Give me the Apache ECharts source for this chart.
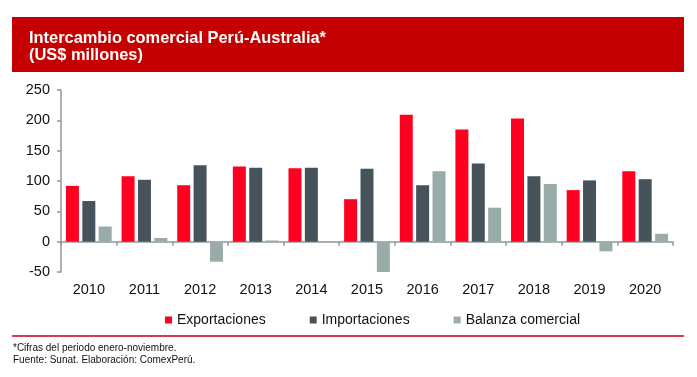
<!DOCTYPE html>
<html>
<head>
<meta charset="utf-8">
<script src="https://cdn.jsdelivr.net/npm/echarts@6/dist/echarts.min.js"></script>
<style>
  html, body { margin: 0; padding: 0; background: #fff; }
  #chart { width: 697px; height: 377px; }
</style>
</head>
<body>
<div id="chart"></div>
<script>
// years and values (US$ millones)
const years = ["2010", "2011", "2012", "2013", "2014", "2015", "2016", "2017", "2018", "2019", "2020"];
const exportaciones = [92, 108, 93, 124, 121, 70, 209, 185, 203, 85, 116];
const importaciones = [67, 102, 126, 122, 122, 120, 93, 129, 108, 101, 103];
const balanza = [25, 6, -33, 2, -1, -50, 116, 56, 95, -16, 13];

const FONT = "'Liberation Sans', Arial, sans-serif";
const axisGrey = "#8e999b";

const chart = echarts.init(document.getElementById("chart"));

const barSeries = (name, data, color) => ({
  name: name,
  type: "bar",
  data: data,
  barWidth: 13,
  barGap: "26%",
  itemStyle: { color: color },
  emphasis: { disabled: true },
});

chart.setOption({
  animation: false,
  textStyle: { fontFamily: FONT },
  grid: { left: 61, right: 24, top: 90, bottom: 105 },
  graphic: [
    // header box
    {
      type: "rect",
      shape: { x: 12, y: 17, width: 672, height: 55 },
      style: { fill: "#c40000" },
    },
    {
      type: "text",
      x: 29,
      y: 38,
      style: {
        text: "Intercambio comercial Perú-Australia*",
        fill: "#fff",
        font: "bold 16.4px " + FONT,
        verticalAlign: "middle",
      },
    },
    {
      type: "text",
      x: 29,
      y: 55.5,
      style: {
        text: "(US$ millones)",
        fill: "#fff",
        font: "bold 16.4px " + FONT,
        verticalAlign: "middle",
      },
    },
    // separator under the legend
    {
      type: "rect",
      shape: { x: 12, y: 335, width: 672, height: 2 },
      style: { fill: "#d93a4c" },
    },
    {
      type: "text",
      x: 13,
      y: 348.5,
      style: {
        text: "*Cifras del periodo enero-noviembre.",
        fill: "#111",
        font: "10px " + FONT,
        verticalAlign: "middle",
      },
    },
    {
      type: "text",
      x: 13,
      y: 360.5,
      style: {
        text: "Fuente: Sunat. Elaboración: ComexPerú.",
        fill: "#111",
        font: "10px " + FONT,
        verticalAlign: "middle",
      },
    },
  ],
  legend: {
    left: 160,
    top: 308,
    itemWidth: 7,
    itemHeight: 7,
    itemGap: 44,
    icon: "rect",
    textStyle: { fontSize: 14, color: "#111", fontFamily: FONT },
    data: ["Exportaciones", "Importaciones", "Balanza comercial"],
  },
  xAxis: {
    type: "category",
    data: years,
    axisLine: { onZero: true, lineStyle: { color: axisGrey, width: 1.5 } },
    axisTick: { show: true, length: 4, lineStyle: { color: axisGrey, width: 1.5 } },
    axisLabel: { margin: 10, fontSize: 14.5, color: "#111", fontFamily: FONT },
  },
  yAxis: {
    type: "value",
    min: -50,
    max: 250,
    interval: 50,
    splitLine: { show: false },
    axisLine: { show: true, lineStyle: { color: axisGrey, width: 1.5 } },
    axisTick: { show: true, length: 4, lineStyle: { color: axisGrey, width: 1.5 } },
    axisLabel: { margin: 11, fontSize: 14.5, color: "#111", fontFamily: FONT },
  },
  series: [
    barSeries("Exportaciones", exportaciones, "#ff0020"),
    barSeries("Importaciones", importaciones, "#46535b"),
    barSeries("Balanza comercial", balanza, "#9aaca9"),
  ],
});
</script>
</body>
</html>
